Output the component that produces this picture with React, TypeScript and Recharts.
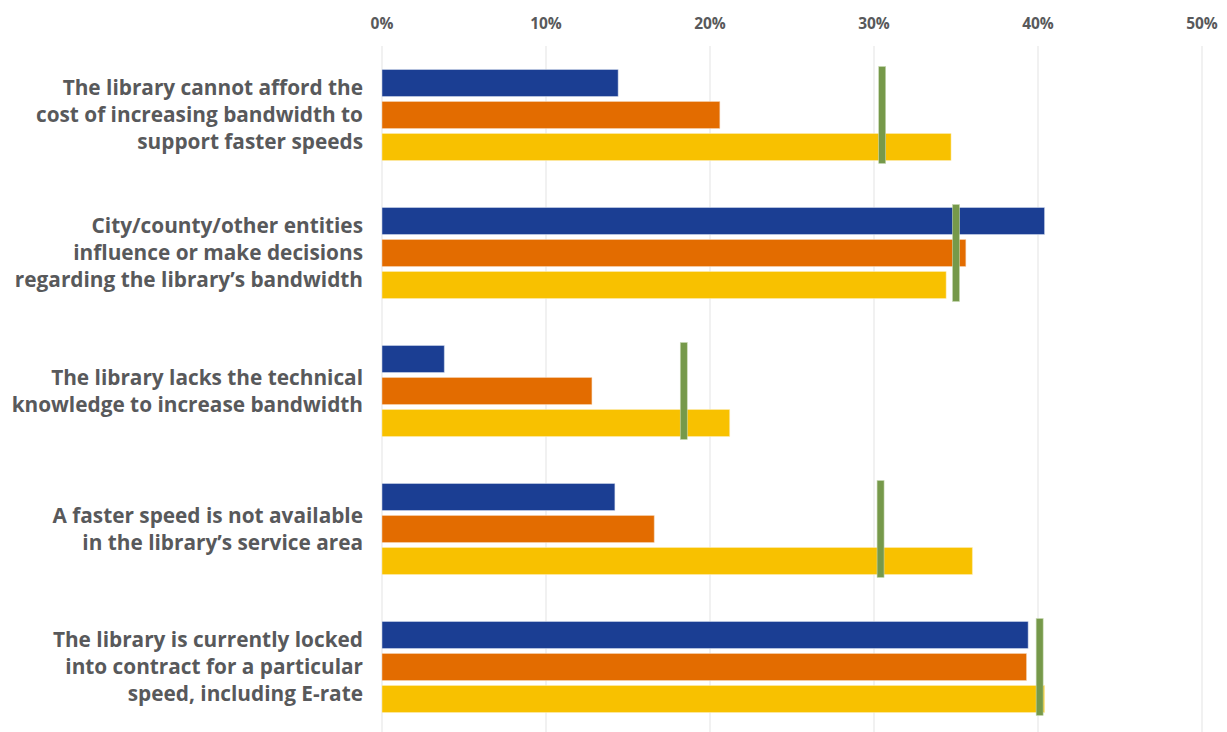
import React from 'react';
import { ComposedChart, Bar, Scatter, XAxis, YAxis, CartesianGrid } from 'recharts';

const CATEGORY_LINES = [
  ['The library cannot afford the', 'cost of increasing bandwidth to', 'support faster speeds'],
  ['City/county/other entities', 'influence or make decisions', 'regarding the library\u2019s bandwidth'],
  ['The library lacks the technical', 'knowledge to increase bandwidth'],
  ['A faster speed is not available', 'in the library\u2019s service area'],
  ['The library is currently locked', 'into contract for a particular', 'speed, including E-rate'],
];
const SERIES_BLUE = [14.4, 40.4, 3.8, 14.2, 39.4];
const SERIES_ORANGE = [20.6, 35.6, 12.8, 16.6, 39.3];
const SERIES_YELLOW = [34.7, 34.4, 21.2, 36.0, 40.4];
const OVERALL = [30.5, 35.0, 18.4, 30.4, 40.1];
const X_TICKS = [0, 10, 20, 30, 40, 50];

const data = CATEGORY_LINES.map((lines, i) => ({
  name: lines.join(' '),
  blue: SERIES_BLUE[i],
  orange: SERIES_ORANGE[i],
  yellow: SERIES_YELLOW[i],
  overall: OVERALL[i],
}));

const FONT = '"Open Sans", Lato, sans-serif';
const TEXT = '#58595b';

function CategoryTick(props: any) {
  const { x, y, index } = props;
  const lines = CATEGORY_LINES[index] || [];
  const lh = 27;
  const start = y - ((lines.length - 1) * lh) / 2;
  return (
    <text x={x} y={start} textAnchor="end" fill={TEXT} fontFamily={FONT} fontWeight={700} fontSize={20.8}>
      {lines.map((l, i) => (
        <tspan key={i} x={x} y={start + i * lh} dy="0.35em">{l}</tspan>
      ))}
    </text>
  );
}

function PercentTick(props: any) {
  const { x, payload } = props;
  return (
    <text x={x} y={20.5} textAnchor="middle" fill={TEXT} fontFamily={FONT} fontWeight={700} fontSize={15.5}>
      {`${payload.value}%`}
    </text>
  );
}

function Marker(props: any) {
  const { cx, cy } = props;
  if (cx == null || cy == null) return null;
  return <rect x={cx - 3.5} y={cy - 48.5} width={7} height={97} fill="#76994a" stroke="#c9d9b4" strokeWidth={0.6} />;
}

export default function App() {
  return (
    <div style={{ height: 724, overflow: 'hidden' }}>
      <ComposedChart
        width={1219}
        height={728}
        data={data}
        layout="vertical"
        margin={{ top: 0, right: 25, bottom: 0, left: 0 }}
        barCategoryGap={23.5}
        barGap={5}
      >
        <CartesianGrid horizontal={false} vertical stroke="#ececec" strokeWidth={1.5} />
        <XAxis
          type="number"
          orientation="top"
          domain={[0, 50]}
          ticks={X_TICKS}
          axisLine={false}
          tickLine={false}
          height={38}
          tick={<PercentTick />}
          interval={0}
        />
        <YAxis
          type="category"
          dataKey="name"
          width={374}
          axisLine={false}
          tickLine={false}
          tickSize={0}
          tickMargin={19}
          tick={<CategoryTick />}
          interval={0}
        />
        <Bar dataKey="blue" fill="#1b3e93" stroke="#dbe2f0" strokeWidth={0.5} isAnimationActive={false} />
        <Bar dataKey="orange" fill="#e36c00" stroke="#f7d8bd" strokeWidth={0.5} isAnimationActive={false} />
        <Bar dataKey="yellow" fill="#f8c100" stroke="#fdefbd" strokeWidth={0.5} isAnimationActive={false} />
        <Scatter dataKey="overall" shape={<Marker />} isAnimationActive={false} />
      </ComposedChart>
    </div>
  );
}
